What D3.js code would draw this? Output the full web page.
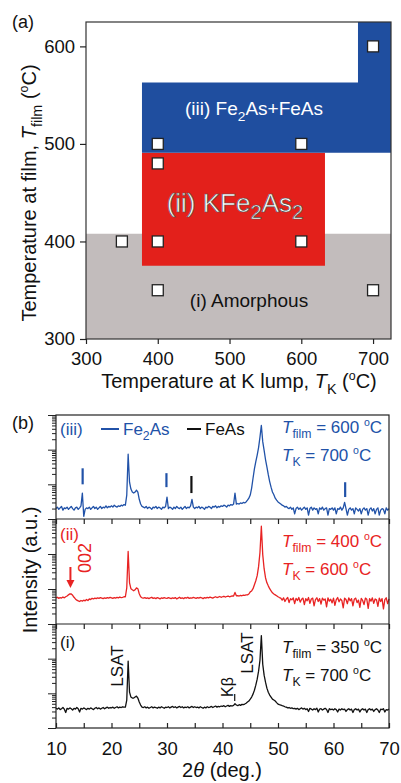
<!DOCTYPE html>
<html><head><meta charset="utf-8">
<script src="https://cdn.jsdelivr.net/npm/d3@7"></script>
<style>
body{margin:0;background:#fff;}
svg{display:block;}
</style></head><body>
<svg id="fig" width="401" height="783"></svg>
<script>
// ================= data =================
// (a) growth diagram
const tkTicks = [300, 400, 500, 600, 700];
const tfilmTicks = [300, 400, 500, 600];
const sampleTK    = [350, 400, 400, 400, 400, 600, 600, 700, 700];
const sampleTfilm = [400, 400, 350, 480, 500, 500, 400, 350, 600];
// phase regions, corners in (T_K, T_film)
const amorphousRegion = [[300,300],[725,300],[725,408],[300,408]];
const kfe2as2Region   = [[378,375],[633,375],[633,491],[378,491]];
const fe2asRegion     = [[378,491],[725,491],[725,625],[679,625],[679,563],[378,563]];

// (b) XRD patterns, 2theta from 10 to 70 deg in 0.25 deg steps (counts)
const twoThetaStart = 10, twoThetaStep = 0.25;
const twoThetaTicks = [10, 20, 30, 40, 50, 60, 70];
const xrdIII = [
 20,22,19,21,23,18,21,20,22,19,21,23,20,18,21,22,19,21,24,56,
 12,19,21,20,22,19,21,23,20,22,19,21,23,20,22,21,24,21,23,22,
 24,22,25,23,22,24,23,25,24,26,25,49,740,115,73,60,56,60,68,60,
 37,27,23,22,21,23,20,22,21,19,22,21,23,20,22,21,19,22,21,23,
 43,20,22,21,19,22,20,23,21,20,22,19,21,23,20,22,21,24,37,22,
 20,22,21,23,20,22,21,19,22,21,23,22,20,23,22,24,21,23,22,24,
 23,25,24,22,25,24,26,25,27,56,27,28,27,29,28,30,29,31,35,40,
 49,78,150,280,450,700,1150,2300,5000,1700,950,520,320,190,120,83,60,50,40,35,
 31,29,27,25,24,22,23,21,20,22,19,21,14,20,22,19,21,18,20,22,
 19,21,13,20,22,18,21,19,20,14,21,19,22,18,20,21,13,20,19,21,
 18,21,14,20,19,22,18,21,30,20,13,19,21,18,20,14,21,19,17,20,
 14,19,21,18,20,13,19,21,17,20,14,19,21,13,18,20,19,14,21,18,
 20];
const xrdII = [
 56,58,54,57,55,59,56,60,63,68,73,72,66,58,52,48,46,44,47,45,
 48,46,50,47,52,50,54,52,55,53,56,54,57,55,53,56,54,57,55,58,
 56,54,57,55,58,56,59,57,58,60,60,108,1180,150,102,95,89,95,108,102,
 73,60,56,55,57,54,56,53,56,58,54,56,53,57,55,52,56,54,57,55,
 54,57,55,53,56,54,57,52,55,58,54,56,53,57,55,58,54,56,55,58,
 56,54,57,55,58,56,53,57,55,58,56,59,57,55,58,60,57,59,61,58,
 60,62,59,61,63,60,62,64,63,80,64,65,63,66,64,67,66,68,68,72,
 83,88,102,132,172,240,435,1100,6200,960,380,210,150,123,102,89,78,72,68,64,
 60,57,55,48,56,44,52,57,41,53,49,56,38,54,47,57,42,51,55,36,
 53,46,57,39,52,55,33,50,56,44,53,37,55,48,52,31,56,45,51,40,
 55,34,50,57,43,52,47,29,55,50,38,56,46,53,33,51,55,41,48,30,
 54,47,36,55,51,28,53,45,56,39,52,49,32,55,44,53,27,50,56,38,
 52];
const xrdI = [
 37,35,38,34,36,39,35,28,37,35,38,36,33,37,35,39,36,29,37,35,
 38,36,34,37,35,38,36,34,37,39,36,38,35,37,39,36,38,40,37,39,
 38,40,37,39,41,38,40,39,41,40,40,64,850,108,78,73,73,78,83,73,
 56,46,40,39,41,38,40,37,39,41,38,40,39,37,40,38,41,39,37,40,
 39,41,38,40,42,39,41,38,40,42,39,41,38,40,39,41,38,40,42,39,
 41,39,40,38,41,39,37,40,38,41,39,40,42,39,41,43,40,42,41,43,
 42,44,41,43,45,42,44,43,45,50,46,44,47,45,48,47,49,52,56,60,
 68,78,95,123,172,256,435,900,4650,690,335,210,141,108,89,78,68,64,60,54,
 49,47,46,44,43,41,40,38,39,37,38,36,37,35,37,34,36,38,35,37,
 34,36,30,37,35,33,36,34,37,29,35,36,33,35,37,34,28,36,34,35,
 33,36,34,29,35,33,36,34,35,30,34,36,33,35,28,34,36,33,35,29,
 34,36,33,35,28,34,36,33,35,30,34,36,33,28,35,34,36,29,34,33,
 35];
// reflection markers: [2theta, lower count, upper count]
const fe2asMarks = [[14.8, 100, 290], [29.9, 83, 210], [62.1, 43, 115]];
const feasMarks  = [[34.4, 56, 174]];

// ================= drawing =================
const FONT = '"Liberation Sans", Arial, Helvetica, sans-serif';
const BLUE = "#1f4e9f", RED = "#e3201b", GRAY = "#c2bcbc";
const LBLUE = "#2152a8", LRED = "#e82323", LBLACK = "#111";
const svg = d3.select("#fig").attr("font-family", FONT);

// rich text helper: parts = [[text, kind]] kind: "", "i", "sub", "sup"
function rich(sel, parts, size, subScale = 0.72, subShift = 0.3) {
  let cur = 0;
  parts.forEach(([t, k]) => {
    const ts = sel.append("tspan").text(t);
    let target = 0;
    if (k === "sub") { ts.attr("font-size", size * subScale); target = size * subShift; }
    else if (k === "sup") { ts.attr("font-size", size * 0.62); target = -size * 0.42; }
    if (k === "i") ts.attr("font-style", "italic");
    if (target - cur !== 0) ts.attr("dy", target - cur);
    cur = target;
  });
  return sel;
}

// ---------- (a) ----------
const xA = d3.scaleLinear().domain([300, 725]).range([86, 391]);
const yA = d3.scaleLinear().domain([300, 625]).range([339, 22]);
const gA = svg.append("g");
const poly = d3.line().x(d => xA(d[0])).y(d => yA(d[1]));
gA.append("path").attr("d", poly(amorphousRegion) + "Z").attr("fill", GRAY);
gA.append("path").attr("d", poly(kfe2as2Region) + "Z").attr("fill", RED);
gA.append("path").attr("d", poly(fe2asRegion) + "Z").attr("fill", BLUE);

// phase labels
rich(gA.append("text").attr("x", 254).attr("y", 115).attr("text-anchor", "middle")
  .attr("font-size", 19).attr("fill", "#fff"),
  [["(iii) Fe", ""], ["2", "sub"], ["As+FeAs", ""]], 19);
rich(gA.append("text").attr("x", 235).attr("y", 212).attr("text-anchor", "middle")
  .attr("font-size", 26).attr("fill", "#fff").attr("stroke", "#555").attr("stroke-width", 0.7),
  [["(ii) KFe", ""], ["2", "sub"], ["As", ""], ["2", "sub"]], 26, 0.78, 0.25);
gA.append("text").attr("x", 249).attr("y", 307).attr("text-anchor", "middle")
  .attr("font-size", 19).attr("fill", "#111").text("(i) Amorphous");

// samples
gA.selectAll("rect.s").data(sampleTK).join("rect").attr("class", "s")
  .attr("x", (d, i) => xA(d) - 5.5).attr("y", (d, i) => yA(sampleTfilm[i]) - 5.5)
  .attr("width", 11).attr("height", 11)
  .attr("fill", "#fff").attr("stroke", "#222").attr("stroke-width", 1.3);

// frame and axes
gA.append("rect").attr("x", 86).attr("y", 22).attr("width", 305).attr("height", 317)
  .attr("fill", "none").attr("stroke", "#333").attr("stroke-width", 1.2);
const axA_x = gA.append("g").attr("transform", "translate(0,339)")
  .call(d3.axisBottom(xA).tickValues(tkTicks).tickSize(5).tickPadding(8));
const axA_y = gA.append("g").attr("transform", "translate(86,0)")
  .call(d3.axisLeft(yA).tickValues(tfilmTicks).tickSize(6).tickPadding(5));
[axA_x, axA_y].forEach(a => {
  a.select(".domain").remove();
  a.selectAll("line").attr("stroke", "#222").attr("stroke-width", 1.2);
  a.selectAll("text").attr("font-family", FONT).attr("font-size", 18.5).attr("fill", "#111");
});
rich(gA.append("text").attr("x", 239).attr("y", 388).attr("text-anchor", "middle")
  .attr("font-size", 20).attr("fill", "#111"),
  [["Temperature at K lump, ", ""], ["T", "i"], ["K", "sub"], [" (", ""], ["o", "sup"], ["C)", ""]], 20);
rich(gA.append("text").attr("transform", "translate(36,193) rotate(-90)").attr("text-anchor", "middle")
  .attr("font-size", 20).attr("fill", "#111"),
  [["Temperature at film, ", ""], ["T", "i"], ["film", "sub"], [" (", ""], ["o", "sup"], ["C)", ""]], 20);
svg.append("text").attr("x", 12).attr("y", 28).attr("font-size", 18).attr("fill", "#111").text("(a)");

// ---------- (b) ----------
const xB = d3.scaleLinear().domain([10, 70]).range([56, 389]);
const tops = [415, 519, 624], bots = [519, 624, 728];
const yB = tops.map((t, i) => d3.scaleLog().domain([10, 1e4]).range([bots[i], t]));
const series = [xrdIII, xrdII, xrdI];
const colors = [LBLUE, LRED, LBLACK];
const gB = svg.append("g");

series.forEach((s, i) => {
  const ln = d3.line().x((d, j) => xB(twoThetaStart + j * twoThetaStep)).y(d => yB[i](d));
  gB.append("path").attr("d", ln(s)).attr("fill", "none")
    .attr("stroke", colors[i]).attr("stroke-width", 1.3).attr("stroke-linejoin", "round");
});

// reflection markers in (iii)
fe2asMarks.forEach(m => gB.append("line").attr("x1", xB(m[0])).attr("x2", xB(m[0]))
  .attr("y1", yB[0](m[1])).attr("y2", yB[0](m[2])).attr("stroke", LBLUE).attr("stroke-width", 2.2));
feasMarks.forEach(m => gB.append("line").attr("x1", xB(m[0])).attr("x2", xB(m[0]))
  .attr("y1", yB[0](m[1])).attr("y2", yB[0](m[2])).attr("stroke", LBLACK).attr("stroke-width", 2.2));

// axes per panel
tops.forEach((t, i) => {
  const y = yB[i];
  const majors = y.ticks().filter(v => Math.abs(Math.log10(v) - Math.round(Math.log10(v))) < 1e-9);
  const minors = y.ticks().filter(v => !majors.includes(v));
  const ma = gB.append("g").attr("transform", "translate(56,0)")
    .call(d3.axisLeft(y).tickValues(majors).tickSize(8).tickFormat(""));
  const mi = gB.append("g").attr("transform", "translate(56,0)")
    .call(d3.axisLeft(y).tickValues(minors).tickSize(4).tickFormat(""));
  [ma, mi].forEach(a => { a.select(".domain").remove(); a.selectAll("line").attr("stroke", "#222").attr("stroke-width", 1); });
  if (i > 0) {
    const tx = gB.append("g").attr("transform", `translate(0,${t})`)
      .call(d3.axisTop(xB).tickValues(d3.range(10, 71, 5)).tickSize(-5).tickFormat(""));
    tx.select(".domain").remove();
    tx.selectAll("line").attr("stroke", "#222").attr("stroke-width", 1.2);
  }
});
const bx = gB.append("g").attr("transform", "translate(0,728)")
  .call(d3.axisBottom(xB).tickValues(d3.range(10, 71, 5)).tickSize(-5).tickPadding(14)
    .tickFormat(d => twoThetaTicks.includes(d) ? d : ""));
bx.select(".domain").remove();
bx.selectAll("line").attr("stroke", "#222").attr("stroke-width", 1.2);
bx.selectAll("text").attr("font-family", FONT).attr("font-size", 18.5).attr("fill", "#111");

// frame
gB.append("rect").attr("x", 56).attr("y", 415).attr("width", 333).attr("height", 313)
  .attr("fill", "none").attr("stroke", "#222").attr("stroke-width", 1.2);
[519, 624].forEach(yy => gB.append("line").attr("x1", 56).attr("x2", 389).attr("y1", yy).attr("y2", yy)
  .attr("stroke", "#222").attr("stroke-width", 1.2));

// panel tags and legend
gB.append("text").attr("x", 60).attr("y", 435).attr("font-size", 17).attr("fill", LBLUE).text("(iii)");
gB.append("text").attr("x", 60).attr("y", 540).attr("font-size", 17).attr("fill", LRED).text("(ii)");
gB.append("text").attr("x", 60).attr("y", 648).attr("font-size", 17).attr("fill", LBLACK).text("(i)");
gB.append("line").attr("x1", 101).attr("x2", 119).attr("y1", 429).attr("y2", 429).attr("stroke", LBLUE).attr("stroke-width", 2);
rich(gB.append("text").attr("x", 123).attr("y", 435).attr("font-size", 17).attr("fill", LBLUE),
  [["Fe", ""], ["2", "sub"], ["As", ""]], 17);
gB.append("line").attr("x1", 187).attr("x2", 201).attr("y1", 429).attr("y2", 429).attr("stroke", LBLACK).attr("stroke-width", 2);
gB.append("text").attr("x", 205).attr("y", 435).attr("font-size", 17).attr("fill", LBLACK).text("FeAs");

// growth conditions
const conds = [["600", "700", 433, LBLUE], ["400", "600", 547, LRED], ["350", "700", 653, LBLACK]];
conds.forEach(([tf, tk, yb, c]) => {
  rich(gB.append("text").attr("x", 282).attr("y", yb).attr("font-size", 17).attr("fill", c),
    [["T", "i"], ["film", "sub"], [" = " + tf + " ", ""], ["o", "sup"], ["C", ""]], 17);
  rich(gB.append("text").attr("x", 282).attr("y", yb + 28).attr("font-size", 17).attr("fill", c),
    [["T", "i"], ["K", "sub"], [" = " + tk + " ", ""], ["o", "sup"], ["C", ""]], 17);
});

// 002 arrow in (ii)
const ax002 = xB(12.6);
gB.append("line").attr("x1", ax002).attr("x2", ax002).attr("y1", 567).attr("y2", 581)
  .attr("stroke", LRED).attr("stroke-width", 2);
gB.append("path").attr("d", `M${ax002 - 4},580 L${ax002 + 4},580 L${ax002},588 Z`).attr("fill", LRED);
gB.append("text").attr("transform", "translate(91,558) rotate(-90)").attr("text-anchor", "middle")
  .attr("font-size", 18).attr("fill", LRED).text("002");

// annotations in (i)
gB.append("text").attr("transform", "translate(123,666) rotate(-90)").attr("text-anchor", "middle")
  .attr("font-size", 17).attr("fill", LBLACK).text("LSAT");
gB.append("text").attr("transform", "translate(253,653) rotate(-90)").attr("text-anchor", "middle")
  .attr("font-size", 17).attr("fill", LBLACK).text("LSAT");
gB.append("text").attr("transform", "translate(233,687) rotate(-90)").attr("text-anchor", "middle")
  .attr("font-size", 16).attr("fill", LBLACK).text("Kβ");
gB.append("line").attr("x1", xB(42.2)).attr("x2", xB(42.2)).attr("y1", 694).attr("y2", 701)
  .attr("stroke", LBLACK).attr("stroke-width", 1.2);

// titles
rich(svg.append("text").attr("x", 222).attr("y", 777).attr("text-anchor", "middle")
  .attr("font-size", 20).attr("fill", "#111"),
  [["2", ""], ["θ", "i"], [" (deg.)", ""]], 20);
svg.append("text").attr("transform", "translate(37,570) rotate(-90)").attr("text-anchor", "middle")
  .attr("font-size", 20).attr("fill", "#111").text("Intensity (a.u.)");
svg.append("text").attr("x", 12).attr("y", 429).attr("font-size", 18).attr("fill", "#111").text("(b)");
</script>
</body></html>
